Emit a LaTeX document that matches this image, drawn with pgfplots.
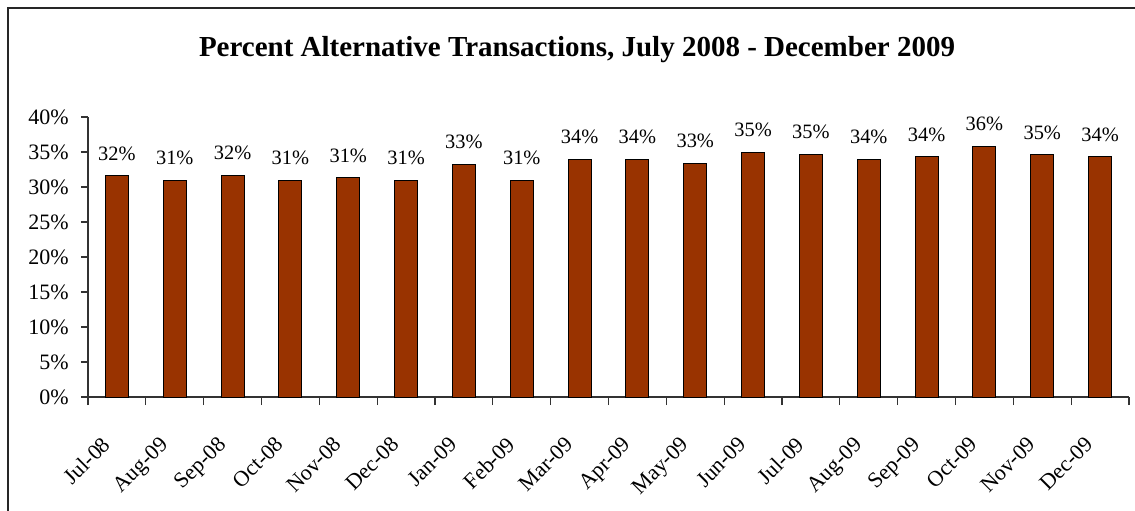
\documentclass[border=0pt]{standalone}
\usepackage{fontspec}
\setmainfont{Liberation Serif}
\usepackage{pgfplots}
\pgfplotsset{compat=1.18}
\definecolor{barbrown}{RGB}{153,51,0}

\begin{document}
\begin{tikzpicture}
\useasboundingbox (-44pt,-56.5pt) rectangle (523.5pt,198.5pt);
% frame (only top and left edges are visible)
\draw[line width=0.8pt, black!85] (-40pt,-60pt) -- (-40pt,194.5pt) -- (530pt,194.5pt);
\begin{axis}[
    scale only axis,
    width=520.5pt, height=140pt,
    xmin=-0.5, xmax=17.5,
    ymin=0, ymax=40,
    ybar, bar width=0.4,
    axis lines*=left,
    axis line style={-, black!80, line width=0.6pt},
    tick align=outside,
    tick style={black!80, line width=0.6pt},
    /pgf/number format/assume math mode=true,
    ytick={0,5,...,40},
    yticklabel={\pgfmathprintnumber{\tick}\%},
    major tick length=3.5pt,
    minor tick length=4pt,
    xtick={0,...,17},
    major x tick style={draw=none},
    minor xtick={-0.5,0.5,...,17.5},
    xticklabels={Jul-08,Aug-09,Sep-08,Oct-08,Nov-08,Dec-08,Jan-09,Feb-09,Mar-09,
                 Apr-09,May-09,Jun-09,Jul-09,Aug-09,Sep-09,Oct-09,Nov-09,Dec-09},
    ticklabel style={font=\fontsize{11}{12}\selectfont},
    xticklabel style={xshift=-8pt, yshift=-15.5pt, rotate=45, anchor=north east, inner sep=0pt},
    yticklabel style={inner sep=0pt, xshift=-6pt},
    point meta=y,
    nodes near coords={\pgfmathprintnumber[fixed,precision=0]{\pgfplotspointmeta}\%},
    every node near coord/.append style={font=\fontsize{10.2}{11}\selectfont, inner sep=0pt, yshift=7.5pt},
]
\addplot[fill=barbrown, draw=black, line width=0.5pt] coordinates {
    (0,31.6) (1,30.9) (2,31.7) (3,30.9) (4,31.3) (5,30.9)
    (6,33.2) (7,30.9) (8,33.9) (9,33.9) (10,33.4) (11,34.95)
    (12,34.7) (13,33.9) (14,34.3) (15,35.8) (16,34.6) (17,34.3)
};
\end{axis}
\node[font=\bfseries\fontsize{14.5}{16}\selectfont] at (244.5pt,173.5pt)
    {Percent Alternative Transactions, July 2008 - December 2009};
\end{tikzpicture}
\end{document}
